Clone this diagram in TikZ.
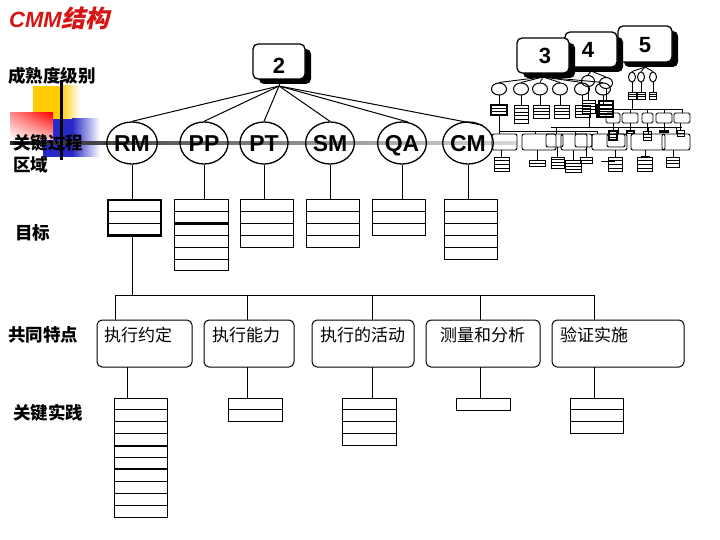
\documentclass[tikz,border=0pt]{standalone}
\usepackage{fontspec}
\setmainfont{Liberation Sans}
\newfontfamily\cjk{Noto Sans CJK SC}
\newfontfamily\cjkslant[FakeSlant=0.22]{Noto Sans CJK SC}
\usetikzlibrary{shapes.geometric,shadows,shadings}
\definecolor{ylw}{RGB}{255,204,0}
\definecolor{blu}{RGB}{40,40,200}
\definecolor{titlered}{RGB}{215,20,20}
% stacked box as a named node: [opts]{name}{x-left}{y-top}{width}{rows}{rowh}
\newcommand\stk[7][]{%
  \node[stackbox,#1,minimum width=#5pt,minimum height={#6*#7pt}] (#2) at (#3,#4) {};
  \ifnum#6>1 \foreach \k in {2,...,#6}{\draw[rowline] (#2.north west) ++(0,{(\k-1)*#7}) -- ++(#5,0);}\fi}
% mini stacked box drawn directly: [opts]{x}{y}{w}{rows}{rowh}
\newcommand\mst[6][]{%
  \draw[mini,#1] (#2,#3) rectangle ++(#4,{#5*#6});
  \ifnum#5>1 \foreach \k in {2,...,#5}{\draw[mini] (#2,#3) ++(0,{(\k-1)*#6}) -- ++(#4,0);}\fi}
\begin{document}
\begin{tikzpicture}[x=1pt,y=-1pt,
  conn/.style={line width=1pt},
  rowline/.style={line width=0.9pt},
  mini/.style={line width=0.9pt},
  stackbox/.style={draw,rectangle,anchor=north west,inner sep=0,outer sep=0,line width=1pt},
  lbl/.style={anchor=west,inner sep=0,font=\cjk\bfseries\fontsize{17.5}{17.5}\selectfont},
  kpa/.style={ellipse,draw,line width=1.3pt,minimum width=48pt,minimum height=42pt,inner sep=0,
    text height=16.5pt,text depth=0pt,font=\fontsize{23}{23}\selectfont\bfseries},
  numbox/.style={draw,fill=white,rounded corners=5pt,line width=1.3pt,minimum width=52pt,minimum height=35pt,
    drop shadow={shadow xshift=6pt,shadow yshift=-5pt,fill=black,opacity=1}},
  numtxt/.style={inner sep=0,font=\fontsize{22}{22}\selectfont\bfseries},
  feat/.style={draw,rounded corners=5pt,anchor=north west,minimum height=47pt,line width=1pt,inner sep=0,outer sep=0},
  ftxt/.style={anchor=west,inner sep=0,font=\cjk\fontsize{17}{17}\selectfont},
  mell/.style={ellipse,draw,line width=1pt,inner sep=0}]
\useasboundingbox (0,0) rectangle (720,540);
\fill[white] (0,0) rectangle (720,540);

% coloured level squares
\fill[ylw] (33,86) rectangle (60,120);
\shade[left color=ylw,right color=white] (60,86) rectangle (80,120);
\fill[blu] (43,119) rectangle (72,157);
\shade[left color=blu,right color=white] (72,119) rectangle (100,157);
\shade[upper left=red!45!white,upper right=red,lower left=white,lower right=red!25!white] (10,113) rectangle (53,140);
\shade[left color=black!85,right color=black!15] (10,141.5) rectangle (517,144.5);
\draw[line width=3pt] (61,80) -- (61,160);

% title and row labels
\node[anchor=west,inner sep=0,text=titlered] (title) at (9,18)
  {\fontsize{22}{22}\selectfont\bfseries\itshape CMM{\cjkslant\bfseries\fontsize{24}{24}\selectfont 结构}};
\node[lbl] (lvl) at (8,76) {成熟度级别};
\node[lbl] (kpa1) at (13,143) {关键过程};
\node[lbl] (kpa2) at (13,165) {区域};
\node[lbl] (goal) at (15,233) {目标};
\node[lbl] (cf) at (8,335) {共同特点};
\node[lbl] (kp) at (13,413) {关键实践};

% key process areas
\foreach \n/\x in {RM/132,PP/204,PT/264,SM/330,QA/402,CM/468}
  \node[kpa] (\n) at (\x,143) {\n};

% level 2 box and its links
\coordinate (hub2) at (279,86);
\draw[conn] (hub2) -- (RM.north);
\draw[conn] (hub2) -- (PP.north);
\draw[conn] (hub2) -- (PT.north);
\draw[conn] (hub2) -- (SM.north);
\draw[conn] (hub2) -- (QA.74);
\draw[conn] (hub2) -- (CM.50);
\node[numbox] (B2) at (279,61.5) {};
\draw[conn] (B2.south) -- (hub2);
\node[numtxt] (n2) at ([yshift=-4pt]B2.center) {2};

% goals
\stk[line width=2.5pt]{gRM}{108}{200}{53}{3}{11.8}
\stk{gPP}{174}{200}{54}{6}{11.8}
\stk{gPT}{240}{200}{53}{4}{11.8}
\stk{gSM}{306}{200}{53}{4}{11.8}
\stk{gQA}{372}{200}{53}{3}{11.8}
\stk{gCM}{444}{200}{53}{5}{11.8}
\draw[line width=2.2pt] (gPP.north west) ++(0,23.6) -- ++(54,0);
\foreach \n in {RM,PP,PT,SM,QA,CM}
  \draw[conn] (\n.south) -- (\n.south |- g\n.north);

% common features
\coordinate (b0) at (132,295);
\coordinate (b1) at (115,295);
\coordinate (b2) at (247,295);
\coordinate (b3) at (372,295);
\coordinate (b4) at (480,295);
\coordinate (b5) at (594,295);
\draw[conn] (RM.south |- gRM.south) -- (b0);
\draw[conn] (b1) -- (b5);
\node[feat,minimum width=95pt] (f1) at (97,320) {};
\node[feat,minimum width=90pt] (f2) at (204,320) {};
\node[feat,minimum width=102pt] (f3) at (312,320) {};
\node[feat,minimum width=114pt] (f4) at (426,320) {};
\node[feat,minimum width=132pt] (f5) at (552,320) {};
\foreach \i in {1,...,5} \draw[conn] (b\i) -- (b\i |- f\i.north);
\node[ftxt] (t1) at ([xshift=7pt,yshift=-15pt]f1.north west) {执行约定};
\node[ftxt] (t2) at ([xshift=8pt,yshift=-15pt]f2.north west) {执行能力};
\node[ftxt] (t3) at ([xshift=8pt,yshift=-15pt]f3.north west) {执行的活动};
\node[ftxt] (t4) at ([xshift=14pt,yshift=-15pt]f4.north west) {测量和分析};
\node[ftxt] (t5) at ([xshift=8pt,yshift=-15pt]f5.north west) {验证实施};

% key practices
\coordinate (d1) at (127,367);
\coordinate (d2) at (247,367);
\coordinate (d3) at (372,367);
\coordinate (d4) at (480,367);
\coordinate (d5) at (594,367);
\stk{p1}{114}{398}{53}{10}{11.9}
\stk{p2}{228}{398}{54}{2}{11.7}
\stk{p3}{342}{398}{54}{4}{11.9}
\stk{p4}{456}{398}{54}{1}{12}
\stk{p5}{570}{398}{53}{3}{11.7}
\foreach \i in {1,...,5} \draw[conn] (d\i) -- (d\i |- p\i.north);
\draw[line width=2pt] (p1.north west) ++(0,47.6) -- ++(53,0);
\draw[line width=2pt] (p1.north west) ++(0,71.4) -- ++(53,0);

% ---- miniature trees of levels 3, 4, 5 ----
\coordinate (h3) at (543,77);
\foreach \n/\x in {e31/499,e32/521,e33/540,e34/560,e35/582,e36/603}
  \node[mell,minimum width=15pt,minimum height=12pt] (\n) at (\x,89) {};
\foreach \n in {e31,e32,e33,e34,e35,e36}{
  \draw[mini] (h3) -- (\n.north);
  \draw[mini] (\n.south) -- (\n.south |- 0,105);}
\mst[line width=1.6pt]{491}{105}{16}{3}{3.4}
\mst{514}{105}{14}{5}{3.6}
\mst{533}{105}{16}{4}{3.3}
\mst{554}{105}{15}{4}{3.3}
\mst{575}{105}{15}{4}{3.1}
\mst[line width=1.3pt]{597}{105}{16}{4}{3.1}

\coordinate (h4) at (591,71);
\node[mell,minimum width=13pt,minimum height=11pt] (e41) at (588,81) {};
\node[mell,minimum width=13pt,minimum height=11pt] (e42) at (606,83) {};
\foreach \n/\yb in {e41/100,e42/101}{
  \draw[mini] (h4) -- (\n.north);
  \draw[mini] (\n.south) -- (\n.south |- 0,\yb);}
\mst{582}{100}{13}{4}{3.3}
\mst[line width=1.3pt]{599}{101}{14}{4}{4}

\coordinate (h5) at (645,67);
\foreach \n/\x in {e51/632,e52/641,e53/653}{
  \node[mell,minimum width=7pt,minimum height=10pt] (\n) at (\x,77) {};
  \draw[mini] (h5) -- (\n.north);
  \draw[mini] (\n.south) -- (\n.south |- 0,92);}
\mst{628}{92}{8}{3}{2.4}
\mst{637}{92}{8}{3}{2.4}
\mst{649}{92}{7}{3}{2.4}

\draw[mini] (632,99.2) -- (632,109);
\draw[mini] (613,109) -- (682,109);
\foreach \a/\b in {606/620,622/638,642/653,656/672,674/690}
  \draw[mini,rounded corners=1.5pt] (\a,113) rectangle (\b,123);
\foreach \x in {613,630,647.5,664,682} \draw[mini] (\x,109) -- (\x,113);
\foreach \x in {613,630,647.5,664,680} \draw[mini] (\x,123) -- (\x,131);
\mst[line width=1.4pt]{609}{131}{8}{3}{3}
\mst[line width=1.8pt]{627}{131}{7}{1}{2.5}
\mst{643}{131}{8}{3}{3}
\mst[line width=1.6pt]{660}{131}{8}{1}{1.5}
\mst{677}{130}{7}{2}{3}

\draw[mini] (589,113.2) -- (589,127);
\draw[mini] (551,127) -- (682,127);
\draw[mini] (499,115.2) -- (499,134);
\draw[mini] (499,131) -- (597,131);
\foreach \x/\yt in {535/131,556/127,575/131,597/131,618/127,648/127,676/127}
  \draw[mini] (\x,\yt) -- (\x,134);
\foreach \a/\b/\c in {492/517/150,522/556/150,546/563/147,561/587/150,575/592/147,592/627/150,607/625/147,631/665/150,662/690/150}
  \draw[mini,rounded corners=2pt] (\a,134) rectangle (\b,\c);
\foreach \x/\yb/\yt in {501/150/157,537/150/160,557/147/157,573/150/160,586/147/157,615/150/157,645/150/157,673/150/157}
  \draw[mini] (\x,\yb) -- (\x,\yt);
\mst{494}{157}{15}{4}{3.7}
\mst{529}{160}{16}{2}{3}
\mst{551}{157}{13}{4}{2.8}
\mst{565}{160}{16}{4}{3}
\mst{580}{157}{12}{2}{3}
\mst{608}{157}{14}{4}{3.7}
\mst{637}{157}{15}{4}{3.7}
\mst{666}{157}{13}{3}{3.4}
\draw[mini] (601,161) -- (615,161);
\draw[mini] (641,156) -- (650,156);

% level boxes 5, 4, 3 (drawn over the hubs of their trees)
\node[numbox,minimum width=54pt,minimum height=36pt] (B5) at (645,44) {};
\node[numtxt] (n5) at ([yshift=-1pt]B5.center) {5};
\node[numbox] (B4) at (591,49.5) {};
\node[numtxt] (n4) at ([xshift=-3pt]B4.center) {4};
\node[numbox] (B3) at (543,55.5) {};
\node[numtxt] (n3) at ([xshift=2pt]B3.center) {3};
\end{tikzpicture}
\end{document}
